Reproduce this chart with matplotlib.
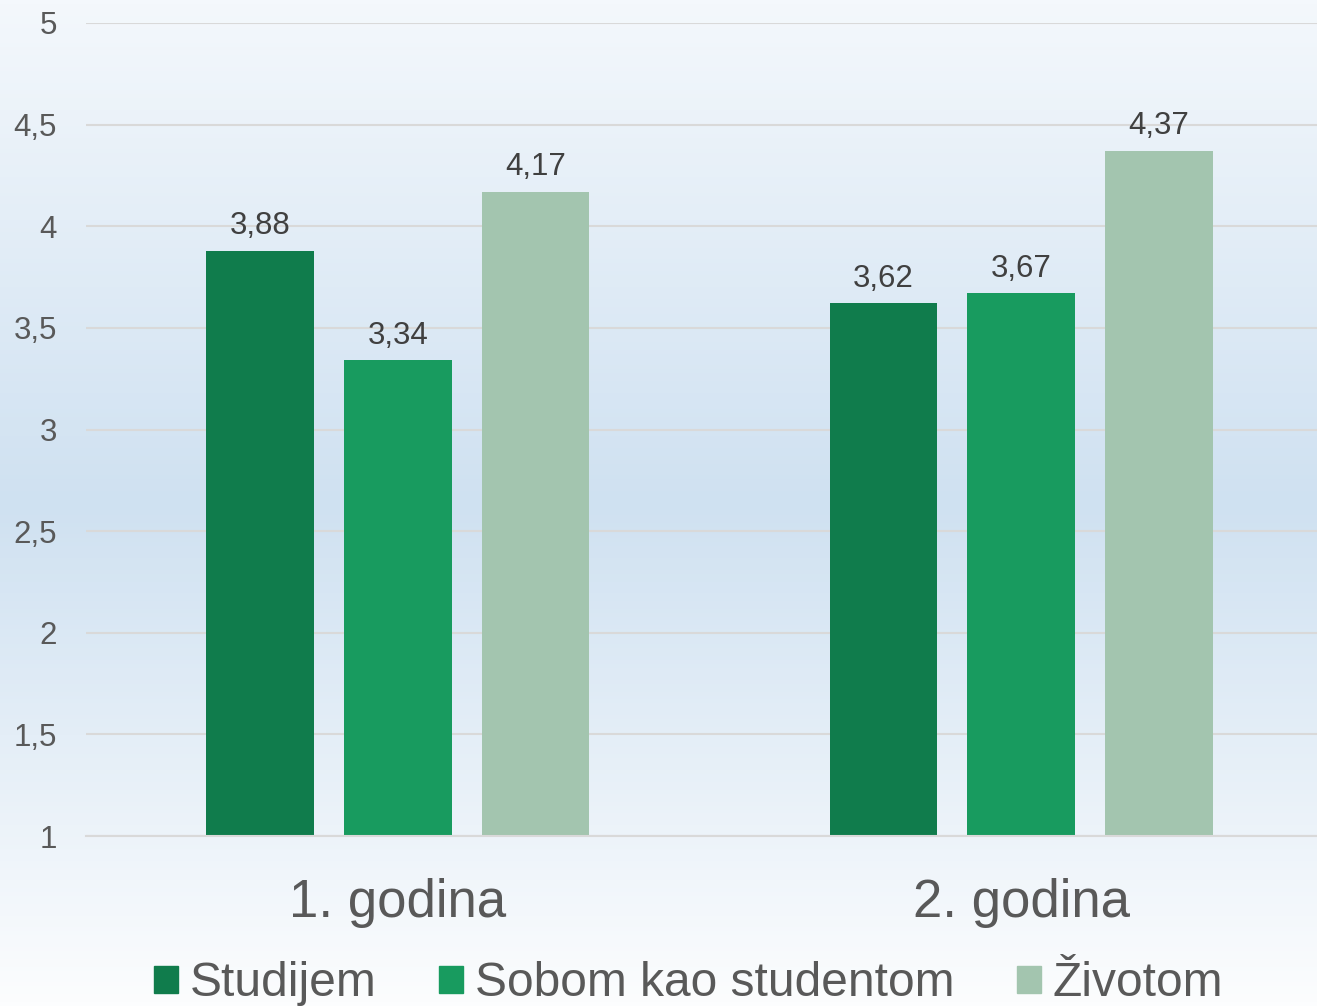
import numpy as np
import matplotlib.pyplot as plt
from matplotlib.colors import LinearSegmentedColormap
from matplotlib.patches import Patch

plt.rcParams['font.family'] = ['Liberation Sans', 'DejaVu Sans']

# Datos
categorias = ["1. godina", "2. godina"]
series = ["Studijem", "Sobom kao studentom", "Životom"]
studijem = [3.88, 3.62]
sobom = [3.34, 3.67]
zivotom = [4.17, 4.37]
colores = ["#107C4C", "#189B5F", "#A3C5AF"]

W, H = 1317, 1006
fig = plt.figure(figsize=(W / 100, H / 100), dpi=100)

# Fondo con degradado vertical
bg = fig.add_axes([0, 0, 1, 1], zorder=-1)
cmap = LinearSegmentedColormap.from_list(
    "fondo", [(0, "#F4F8FC"), (0.5, "#CFE1F1"), (1, "#FCFDFE")])
grad = np.linspace(0, 1, 256).reshape(-1, 1)
bg.imshow(grad, aspect="auto", cmap=cmap, extent=[0, 1, 0, 1])
bg.axis("off")

# Ejes principales (el area de trazado se sale un poco por la derecha)
left, right = 86 / W, 1333 / W
bottom, top = 1 - 836 / H, 1 - 23 / H
ax = fig.add_axes([left, bottom, right - left, top - bottom])
ax.patch.set_alpha(0)

x = np.arange(len(categorias))
ancho = 0.173
paso = 0.221
valores = [studijem, sobom, zivotom]
for i, (nombre, vals) in enumerate(zip(series, valores)):
    pos = x + (i - 1) * paso
    barras = ax.bar(pos, np.array(vals) - 1, width=ancho, bottom=1,
                    color=colores[i], zorder=3, label=nombre)
    for b, v in zip(barras, vals):
        ax.annotate(f"{v:.2f}".replace(".", ","),
                    (b.get_x() + b.get_width() / 2, v),
                    xytext=(0, 7), textcoords="offset points",
                    ha="center", va="bottom", fontsize=22.5, color="#404040")

ax.set_xlim(-0.5, 1.5)
ax.set_ylim(1, 5)
yt = np.arange(1, 5.01, 0.5)
ax.set_yticks(yt)
ax.set_yticklabels([f"{t:g}".replace(".", ",") for t in yt])
ax.set_xticks(x)
ax.set_xticklabels(categorias)
ax.tick_params(axis="y", length=0, pad=21, labelsize=22.5, labelcolor="#595959")
ax.tick_params(axis="x", length=0, pad=30, labelsize=38, labelcolor="#595959")
ax.grid(axis="y", color="#D9D9D9", linewidth=1.5, zorder=0)
for s in ["top", "right", "left"]:
    ax.spines[s].set_visible(False)
ax.spines["bottom"].set_color("#D9D9D9")
ax.spines["bottom"].set_linewidth(1.5)
ax.spines["bottom"].set_zorder(4)

# Leyenda
handles = [Patch(color=c) for c in colores]
fig.legend(handles, series, loc="center", bbox_to_anchor=(0.523, 1 - 984 / H),
           ncol=3, frameon=False, fontsize=34.5, labelcolor="#595959",
           handlelength=0.5, handleheight=0.5, handletextpad=0.25,
           columnspacing=1.3, borderaxespad=0, borderpad=0)

plt.savefig("out.png", dpi=100)
